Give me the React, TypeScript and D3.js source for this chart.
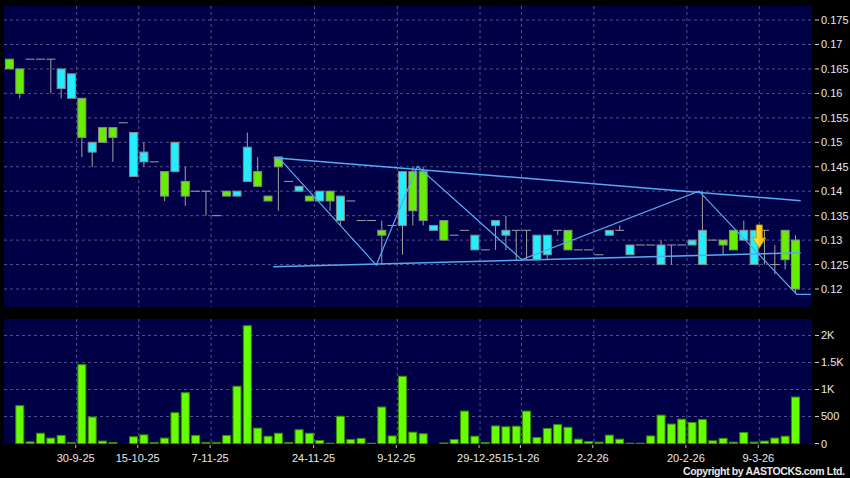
import React from 'react';
import * as d3 from 'd3';

// price ticks on the right axis
const priceTicks = [0.12, 0.125, 0.13, 0.135, 0.14, 0.145, 0.15, 0.155, 0.16, 0.165, 0.17, 0.175];
const priceTickLabels = ['0.12', '0.125', '0.13', '0.135', '0.14', '0.145', '0.15', '0.155', '0.16', '0.165', '0.17', '0.175'];
const volTicks = [0, 500, 1000, 1500, 2000];
const volTickLabels = ['0', '500', '1K', '1.5K', '2K'];

// date ticks sit between trading days (slot index)
const dateSlots = [6.5, 12.5, 19.5, 29.5, 37.5, 45.5, 49.5, 56.5, 65.5, 72.5];
const dateLabels = ['30-9-25', '15-10-25', '7-11-25', '24-11-25', '9-12-25', '29-12-25', '15-1-26', '2-2-26', '20-2-26', '9-3-26'];

// daily OHLC + volume, one entry per trading day
const opens = [
  0.167, 0.165, 0.167, 0.167, 0.167, 0.161, 0.159, 0.159, 0.148, 0.153,
  0.153, 0.154, 0.143, 0.146, 0.146, 0.144, 0.144, 0.142, 0.140, 0.140,
  0.135, 0.140, 0.139, 0.142, 0.144, 0.139, 0.147, 0.142, 0.140, 0.139,
  0.138, 0.140, 0.134, 0.138, 0.134, 0.134, 0.132, 0.133, 0.133, 0.144,
  0.144, 0.132, 0.134, 0.131, 0.132, 0.128, 0.128, 0.133, 0.131, 0.132,
  0.132, 0.126, 0.127, 0.132, 0.132, 0.128, 0.128, 0.127, 0.131, 0.132,
  0.127, 0.129, 0.129, 0.125, 0.129, 0.129, 0.129, 0.125, 0.130, 0.130,
  0.132, 0.130, 0.125, 0.132, 0.125, 0.132, 0.130,
];
const highs = [
  0.167, 0.165, 0.167, 0.167, 0.167, 0.165, 0.164, 0.159, 0.150, 0.153,
  0.153, 0.154, 0.152, 0.150, 0.146, 0.144, 0.150, 0.145, 0.140, 0.140,
  0.135, 0.140, 0.140, 0.152, 0.147, 0.139, 0.147, 0.142, 0.141, 0.139,
  0.140, 0.140, 0.139, 0.138, 0.134, 0.134, 0.134, 0.133, 0.144, 0.145,
  0.145, 0.133, 0.134, 0.131, 0.132, 0.131, 0.128, 0.134, 0.135, 0.132,
  0.132, 0.131, 0.131, 0.132, 0.132, 0.128, 0.128, 0.127, 0.132, 0.133,
  0.129, 0.129, 0.129, 0.130, 0.129, 0.129, 0.130, 0.140, 0.130, 0.130,
  0.132, 0.134, 0.132, 0.132, 0.129, 0.132, 0.131,
];
const lows = [
  0.165, 0.159, 0.167, 0.167, 0.160, 0.159, 0.159, 0.147, 0.145, 0.150,
  0.146, 0.154, 0.143, 0.145, 0.146, 0.138, 0.144, 0.137, 0.140, 0.135,
  0.135, 0.139, 0.139, 0.142, 0.141, 0.138, 0.136, 0.142, 0.140, 0.138,
  0.138, 0.136, 0.133, 0.138, 0.134, 0.134, 0.125, 0.133, 0.127, 0.133,
  0.133, 0.132, 0.130, 0.131, 0.132, 0.128, 0.128, 0.128, 0.128, 0.126,
  0.126, 0.126, 0.126, 0.131, 0.128, 0.128, 0.128, 0.127, 0.131, 0.132,
  0.127, 0.129, 0.129, 0.125, 0.125, 0.129, 0.129, 0.125, 0.130, 0.127,
  0.128, 0.130, 0.125, 0.125, 0.123, 0.124, 0.119,
];
const closes = [
  0.165, 0.160, 0.167, 0.167, 0.167, 0.165, 0.164, 0.151, 0.150, 0.150,
  0.151, 0.154, 0.152, 0.148, 0.146, 0.139, 0.150, 0.139, 0.140, 0.140,
  0.135, 0.139, 0.140, 0.149, 0.141, 0.138, 0.145, 0.142, 0.141, 0.138,
  0.140, 0.138, 0.139, 0.138, 0.134, 0.134, 0.131, 0.133, 0.144, 0.136,
  0.134, 0.133, 0.130, 0.131, 0.132, 0.131, 0.128, 0.134, 0.132, 0.132,
  0.132, 0.131, 0.131, 0.132, 0.128, 0.128, 0.128, 0.127, 0.132, 0.132,
  0.129, 0.129, 0.129, 0.129, 0.129, 0.129, 0.130, 0.132, 0.130, 0.129,
  0.128, 0.132, 0.132, 0.132, 0.125, 0.126, 0.120,
];
const volumes = [
  0, 700, 30, 190, 100, 150, 20, 1460, 490, 45,
  20, 0, 125, 160, 20, 100, 570, 940, 150, 20,
  20, 150, 1060, 2180, 285, 135, 190, 20, 255, 190,
  55, 5, 505, 75, 95, 5, 675, 140, 1245, 210,
  180, 0, 10, 75, 600, 135, 20, 325, 310, 320,
  600, 110, 280, 350, 300, 80, 35, 25, 155, 80,
  5, 5, 140, 525, 360, 450, 390, 445, 50, 95,
  25, 205, 25, 45, 100, 135, 860,
];

// hand drawn study lines (slot, price)
const zigzagSlots = [26.0, 35.47, 39.44, 49.53, 66.67, 76.12, 77.47];
const zigzagPrices = [0.1469, 0.1249, 0.1451, 0.126, 0.14, 0.1189, 0.1189];
const upperSlots = [25.55, 76.5];
const upperPrices = [0.14685, 0.13806];
const lowerSlots = [25.5, 76.5];
const lowerPrices = [0.12456, 0.12742];
const arrowSlot = 72.5;
const arrowPrice = 0.1284;

const W = 850;
const H = 478;
const plotL = 4;
const plotR = 812;
const priceTop = 6;
const priceBot = 307;
const volTop = 319;
const volBot = 443.5;

const GREEN = '#66ee00';
const CYAN = '#22eeff';
const GRID = '#50508c';
const LINE = '#55aaee';
const FONT = '"Liberation Sans", Arial, sans-serif';

export default function App() {
  const x = d3.scaleLinear().domain([0, 76]).range([9.45, 795.5]);
  const y = d3.scaleLinear().domain([0.116319, 0.177873]).range([priceBot, priceTop]);
  const yv = d3.scaleLinear().domain([0, 2305]).range([volBot, volTop]);
  const bw = 8;

  const line = d3.line<[number, number]>().x(d => x(d[0])).y(d => y(d[1]));
  const zig = line(zigzagSlots.map((s, i) => [s, zigzagPrices[i]]));
  const upper = line(upperSlots.map((s, i) => [s, upperPrices[i]]));
  const lower = line(lowerSlots.map((s, i) => [s, lowerPrices[i]]));

  const ax = x(arrowSlot);
  const ay = y(arrowPrice);
  const arrowPath = `M${ax - 3},${ay - 23} L${ax + 3},${ay - 23} L${ax + 3},${ay - 10} L${ax + 6.5},${ay - 10} L${ax},${ay} L${ax - 6.5},${ay - 10} L${ax - 3},${ay - 10} Z`;

  return (
    <div style={{ position: 'absolute', left: 0, top: 0, width: W, height: H, background: '#000' }}>
      <svg width={W} height={H} style={{ display: 'block' }}>
        <defs>
          <linearGradient id="arrowGrad" x1="0" x2="1" y1="0" y2="0">
            <stop offset="0" stopColor="#fff088" />
            <stop offset="0.5" stopColor="#ffd21a" />
            <stop offset="1" stopColor="#f0b800" />
          </linearGradient>
        </defs>
        <rect x={0} y={0} width={W} height={H} fill="#000" />
        <rect x={plotL} y={priceTop} width={plotR - plotL} height={priceBot - priceTop} fill="#000046" />
        <rect x={plotL} y={volTop} width={plotR - plotL} height={volBot - volTop} fill="#000046" />

        {/* grid */}
        {priceTicks.map(t => (
          <line key={'pg' + t} x1={plotL} x2={plotR} y1={y(t)} y2={y(t)} stroke={GRID} strokeDasharray="3,3" />
        ))}
        {volTicks.slice(1).map(t => (
          <line key={'vg' + t} x1={plotL} x2={plotR} y1={yv(t)} y2={yv(t)} stroke={GRID} strokeDasharray="3,3" />
        ))}
        {dateSlots.map(s => (
          <g key={'dg' + s}>
            <line x1={x(s)} x2={x(s)} y1={priceTop} y2={priceBot} stroke={GRID} strokeDasharray="3,3" />
            <line x1={x(s)} x2={x(s)} y1={volTop} y2={volBot} stroke={GRID} strokeDasharray="3,3" />
          </g>
        ))}

        {/* candles */}
        {opens.map((o, i) => {
          const c = closes[i];
          const cx = x(i);
          const wick = highs[i] > lows[i] ? (
            <line x1={cx} x2={cx} y1={y(highs[i])} y2={y(lows[i])} stroke="#a0a0a0" />
          ) : null;
          if (o === c) {
            return (
              <g key={'c' + i}>
                {wick}
                <line x1={cx - bw / 2 - 0.5} x2={cx + bw / 2 + 0.5} y1={y(o)} y2={y(o)} stroke="#a0a0a0" />
              </g>
            );
          }
          const top = y(Math.max(o, c));
          const bot = y(Math.min(o, c));
          return (
            <g key={'c' + i}>
              {wick}
              <rect x={cx - bw / 2} y={top} width={bw} height={bot - top} fill={c > o ? CYAN : GREEN} stroke="#8a8a8a" />
            </g>
          );
        })}

        {/* study lines */}
        <path d={upper || ''} fill="none" stroke={LINE} strokeWidth={1.5} />
        <path d={lower || ''} fill="none" stroke={LINE} strokeWidth={1.5} />
        <path d={zig || ''} fill="none" stroke={LINE} strokeWidth={1.2} />
        <path d={arrowPath} fill="url(#arrowGrad)" stroke="#c89000" strokeWidth={0.8} />

        {/* volume */}
        {volumes.map((v, i) => (v > 0 ? (
          <rect key={'v' + i} x={x(i) - bw / 2} y={yv(v)} width={bw} height={volBot - yv(v)} fill="#66ff00" stroke="#3a8a00" />
        ) : null))}

        {/* right axes */}
        {priceTicks.map((t, i) => (
          <g key={'pt' + t} fontFamily={FONT} fontSize={11} fill="#e8e8e8">
            <line x1={815} x2={819} y1={y(t)} y2={y(t)} stroke="#d0d0d0" />
            <text x={821} y={y(t)} dominantBaseline="central">{priceTickLabels[i]}</text>
          </g>
        ))}
        {volTicks.map((t, i) => (
          <g key={'vt' + t} fontFamily={FONT} fontSize={11} fill="#e8e8e8">
            <line x1={815} x2={819} y1={yv(t)} y2={yv(t)} stroke="#d0d0d0" />
            <text x={821} y={yv(t)} dominantBaseline="central">{volTickLabels[i]}</text>
          </g>
        ))}

        {/* date axis */}
        {dateSlots.map((s, i) => (
          <g key={'dt' + s}>
            <line x1={x(s) - 1} x2={x(s) - 1} y1={445} y2={448} stroke="#c0c0c0" />
            <text x={x(s) - 1} y={462} textAnchor="middle" fontFamily={FONT} fontSize={11} fill="#e8e8e8">{dateLabels[i]}</text>
          </g>
        ))}

        <text x={845} y={475} textAnchor="end" fontFamily={FONT} fontSize={10.5} fontWeight="bold" fill="#e8e8e8" textLength={162} lengthAdjust="spacing">Copyright by AASTOCKS.com Ltd.</text>
      </svg>
    </div>
  );
}
